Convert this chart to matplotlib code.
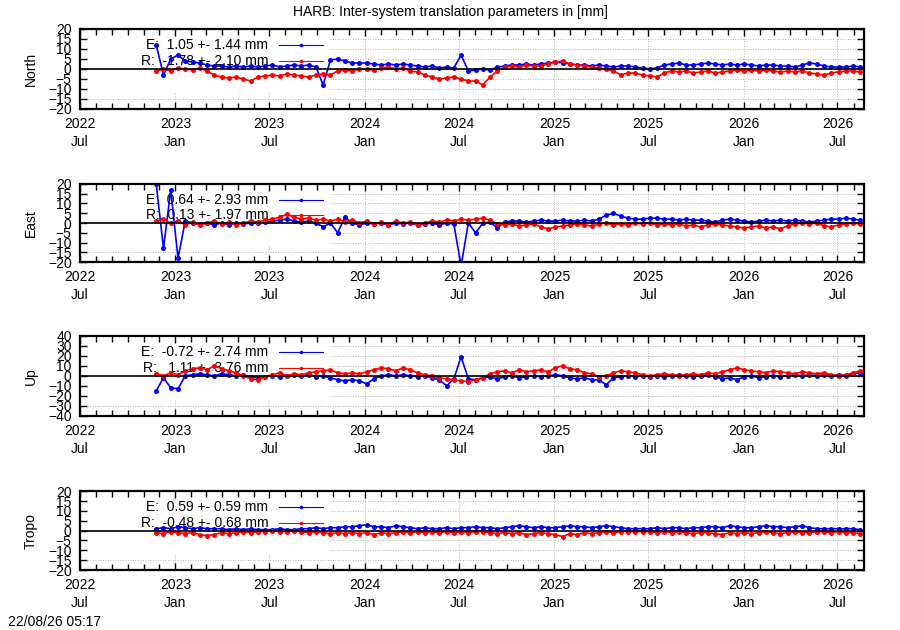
import numpy as np
import pandas as pd
import matplotlib
matplotlib.use("Agg")
import matplotlib.pyplot as plt
import matplotlib.dates as mdates
from matplotlib.patches import Rectangle

plt.rcParams['font.family'] = ['Liberation Sans', 'DejaVu Sans']
plt.rcParams['font.size'] = 10

dates = pd.date_range('2022-11-25', periods=98, freq='14D')

north_e = [12, -3, 5, 7, 4, 3.5, 3, 2, 1.5, 1.5, 1, 1.5, 1, 1.5,
           1, 1.5, 2, 1, 1.5, 2, 1.5, 2, 1, -8, 4.5, 5, 4, 3,
           3, 3, 2.5, 2, 2.5, 2, 2.5, 2, 1.5, 1, 1.5, 0.5, 1, 0.5,
           7, -1, -0.5, 0, -0.5, 1, 1.5, 2, 2, 2.5, 2, 2.5, 3, 3.5,
           3, 2.5, 2, 2, 1.5, 2, 1.5, 1, 1.5, 1.5, 1, 0.5, 0, 0.5,
           2, 2.5, 3, 2, 2, 2.5, 3, 2.5, 2, 2.5, 2, 2.5, 2, 1.5,
           2, 2, 1.5, 1.5, 1, 2, 3, 2.5, 1.5, 1, 1, 1, 1.5, 1]
north_r = [-1, 0, -1, 0.5, 0, -0.5, 0.5, -1, -3, -4, -4.5, -4, -5, -6,
           -4, -3.5, -3, -3.5, -2.5, -3, -3.5, -4, -3, -2.5, -3, -1, -0.5, -1,
           0, 0, -0.5, 0.5, 1, 0, 0.5, -1, -1.5, -3, -4, -5, -4.5, -4,
           -5, -6, -6, -8, -4, -1, 1, 1.5, 1, 2, 1.5, 1.5, 2.5, 3.5,
           4, 2.5, 2, 1.5, 1, 0.5, 0, -1, -3, -2, -2, -3, -3.5, -4,
           -2, -1, -1.5, -1, -2, -1.5, -1, -2, -1.5, -1, -0.5, -1, -0.5, -1,
           -0.5, -1, -1.5, -1, -1.5, -1, -2, -2.5, -3, -2, -1.5, -1, -1, -1.5]

east_e = [20, -13, 17, -18, 1, 0, -0.5, 0, -1, 0, -1, 0, -0.5, 0,
          0, 0.5, 1, 1.5, 2, 1, 0.5, 1, 0, -2, 0, -5, 3, 0,
          -1, 0, -0.5, 0, -1, 0, -0.5, 0, -1, -0.5, 0, -1, 0, -0.5,
          -22, 0, -5, 0, 0.5, -2.5, 0.5, 1, 1, 0.5, 1, 1.5, 1, 1,
          1.5, 1, 1, 1.5, 1, 2, 4, 5, 3.5, 2.5, 2, 2, 2.5, 2.5,
          2, 2, 1.5, 2, 1.5, 1.5, 1, 0.5, 1.5, 2, 1.5, 1, 0.5, 1,
          1.5, 1, 1.5, 1, 1.5, 1, 0.5, 1, 1.5, 2, 2, 2.5, 2, 1.5]
east_r = [1, 2, 0, 1, -1, 0.5, -1, 0, 1, -0.5, 0.5, -1, 0, 1,
          0.5, 1.5, 2, 3, 4.5, 3, 2, 2.5, 1.5, 2, 1, 2, 0.5, 1.5,
          0, 1, -0.5, 0.5, -1, 1, 0, 0.5, -1, 0, 1, 0.5, 1.5, 1,
          2, 1.5, 2, 2.5, 1.5, -0.5, -1, -0.5, -1.5, -1, -0.5, -2, -3, -2,
          -1.5, -1, -0.5, -1, -1.5, -0.5, 0, -1, -0.5, -1, 0, -0.5, 0, -1,
          -0.5, -1, -0.5, -1.5, -1, -2, -1, -0.5, -1, -1.5, -2, -2.5, -2, -1.5,
          -2.5, -2, -3, -1.5, -0.5, 0, -0.5, 0, -1.5, -2, -1, -0.5, 0, -0.5]

up_e = [-15, -2, -12, -13, 0, 1, 2, 1, 0, 2, 1, 0, 1, -1,
        -2, -1, 0, -1, 0, 1, 0, 1, -1, 0, -2, -4, -5, -4,
        -5, -8, -3, 0, 1, 0, 1, 0, -1, 0, -2, -4, -10, -3,
        19, -3, -4, -2, -1, -3, -1, 0, -2, -1, 0, -1, 0, 1,
        0, -2, -3, -2, -4, -4, -9, -2, -1, 0, -1, 0, -1, 0,
        -1, 0, 1, 0, -1, 0, 1, -1, -3, -2, -4, -1, 0, -2,
        -1, 0, -1, 0, 1, 0, 1, 0, 1, 0, 1, 0, 2, 3]
up_r = [2, 0, 3, 1, 5, 7, 8, 6, 10, 7, 5, 3, 0, -3,
        -4, -1, 1, 3, 0, 2, 1, 3, 4, 5, 6, 3, 2, 3,
        2, 4, 6, 8, 7, 5, 8, 6, 3, 1, 0, -2, -3, -4,
        -5, -6, -4, -2, 2, 4, 5, 3, 6, 4, 5, 6, 4, 8,
        10, 7, 6, 3, 2, -1, 0, 3, 5, 4, 3, 1, 0, 1,
        2, 1, 0, 1, 2, 1, 3, 2, 4, 6, 8, 6, 5, 4,
        3, 5, 4, 3, 2, 4, 3, 2, 3, 1, 0, 1, 3, 5]

tropo_e = [1, 1.5, 1, 2, 1.5, 1, 1.5, 1, 1, 1, 0.5, 1, 0.5, 1,
           0.5, 0.5, 0.5, 1, 0.5, 0.5, 1, 1, 1.5, 1, 1.5, 1.5, 2, 2,
           2.5, 3, 2, 2, 1.5, 2.5, 2, 1.5, 1, 1.5, 1, 1, 1.5, 1,
           1.5, 1.5, 2, 1.5, 1.5, 1, 1.5, 2, 2.5, 2, 1.5, 2, 1.5, 1.5,
           2, 2.5, 2, 2, 1.5, 2, 2.5, 2, 1.5, 1, 1, 1, 1, 1.5,
           1, 1.5, 1.5, 1, 1.5, 1.5, 2, 2, 1.5, 2.5, 2, 1.5, 1.5, 2,
           2.5, 2, 2, 1.5, 2, 2.5, 1.5, 1, 1, 1, 1, 1, 1, 0.5]
tropo_r = [-1, -1.5, -0.5, -1, -1.5, -1, -2, -2.5, -2, -1, -1.5, -1, -0.5, -1,
           -0.5, -0.5, 0, -0.5, -0.5, 0, -0.5, -1, -0.5, -1, -1.5, -1, -1.5, -1,
           -1.5, -1, -2, -1, -1.5, -1, -0.5, -1, -0.5, -1, -0.5, -1, -0.5, -1,
           -0.5, -1, -0.5, -0.5, -1, -1.5, -1, -1.5, -1, -2, -1.5, -1, -1.5, -2,
           -3, -1.5, -2, -1, -1.5, -1, -0.5, -1, -0.5, -0.5, -0.5, -0.5, -0.5, -1,
           -0.5, -1, -0.5, -1, -1.5, -1, -1, -1.5, -2, -1, -1.5, -1, -1.5, -1,
           -0.5, -1, -1.5, -1, -0.5, -1, -1, -0.5, -0.5, -1, -0.5, -1, -1, -1.5]

panel_names = ['North', 'East', 'Up', 'Tropo']
series_e = [north_e, east_e, up_e, tropo_e]
series_r = [north_r, east_r, up_r, tropo_r]
stats_e = ['E:  1.05 +- 1.44 mm', 'E:  0.64 +- 2.93 mm', 'E:  -0.72 +- 2.74 mm', 'E:  0.59 +- 0.59 mm']
stats_r = ['R:  -1.78 +- 2.10 mm', 'R:  0.13 +- 1.97 mm', 'R:   1.11 +- 3.76 mm', 'R:  -0.48 +- 0.68 mm']
y_limits = [20, 20, 40, 20]
y_steps = [5, 5, 10, 5]

fig = plt.figure(figsize=(9, 6.3), dpi=100)

# panel boxes in figure fractions
bottoms = [0.827, 0.584, 0.340, 0.0952]
heights = [0.127, 0.124, 0.127, 0.125]
left, width = 0.0889, 0.871

xmin = pd.Timestamp('2022-07-01')
xmax = pd.Timestamp('2026-08-21')

for k in range(4):
    ax = fig.add_axes([left, bottoms[k], width, heights[k]])
    lim = y_limits[k]
    yt = np.arange(-lim, lim + 1, y_steps[k])

    ax.set_xlim(xmin, xmax)
    ax.set_ylim(-lim, lim)
    ax.set_yticks(yt)

    ax.xaxis.set_major_locator(mdates.MonthLocator(bymonth=[1, 7]))
    ax.xaxis.set_major_formatter(mdates.DateFormatter('%Y\n%b'))
    ax.xaxis.set_minor_locator(mdates.MonthLocator())
    ax.tick_params(which='both', direction='in', top=True, right=True, width=1)
    ax.tick_params(which='major', length=5, labelsize=10, pad=6)
    ax.tick_params(which='minor', length=4)
    for lbl in ax.get_xticklabels():
        lbl.set_linespacing(1.35)

    # grid drawn by hand so the key box can hide it but not the ticks
    for yv in yt:
        ax.axhline(yv, color='#a0a0a0', lw=0.6, ls=(0, (1, 2)), zorder=0.3)
    for xv in ax.get_xticks():
        ax.axvline(xv, color='#a0a0a0', lw=0.6, ls=(0, (1, 2)), zorder=0.3)
    ax.add_patch(Rectangle((0, 0.2), 0.319, 0.8, transform=ax.transAxes,
                           facecolor='white', edgecolor='none', zorder=0.8))

    ax.axhline(0, color='black', lw=1.2, zorder=4)

    ax.plot(dates, series_e[k], color='blue', lw=1.2, marker='o', ms=3.6,
            mew=0, zorder=2)
    ax.plot(dates, series_r[k], color='red', lw=1.2, marker='o', ms=3.6,
            mew=0, zorder=2.2)

    # key: text on the left, sample on the right (gnuplot style)
    for row, (txt, col) in enumerate([(stats_e[k], 'blue'), (stats_r[k], 'red')]):
        yy = 0.8 - 0.2 * row
        ax.text(0.240, yy, txt, transform=ax.transAxes, ha='right',
                va='center', fontsize=10, zorder=1.5)
        ax.plot([0.254, 0.310], [yy, yy], transform=ax.transAxes,
                color=col, lw=0.8, zorder=1.5, clip_on=False)
        ax.plot([0.282], [yy], transform=ax.transAxes, color=col,
                marker='o', ms=2.6, mew=0, zorder=1.5)

    ax.set_ylabel(panel_names[k], fontsize=10)
    ax.yaxis.set_label_coords(-0.0536, 0.5)
    for sp in ax.spines.values():
        sp.set_linewidth(1.6)

fig.text(0.5, 0.981, 'HARB: Inter-system translation parameters in [mm]',
         ha='center', va='center', fontsize=10)
fig.text(0.009, 0.012, '22/08/26 05:17', ha='left', va='center', fontsize=10)

fig.savefig('out.png', dpi=100, facecolor='white')
